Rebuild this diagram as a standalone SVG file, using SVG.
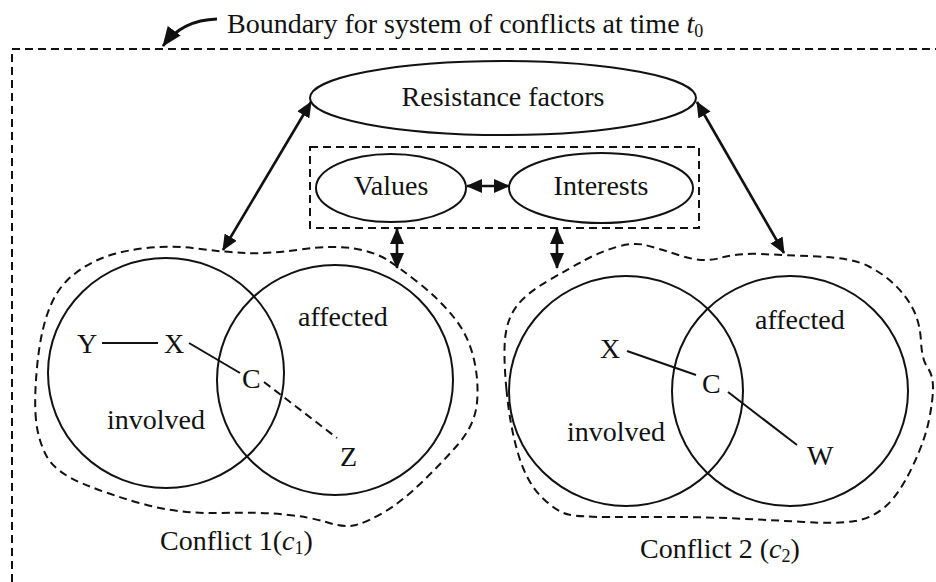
<svg xmlns="http://www.w3.org/2000/svg" width="936" height="582" viewBox="0 0 936 582">
<style>
text{font-family:"Liberation Serif","Times New Roman",serif;font-size:28px;fill:#111}
.sub{font-size:18px}
.it{font-style:italic}
.solid{fill:none;stroke:#111;stroke-width:2}
.node{fill:#fff;stroke:#111;stroke-width:2}
.dash{fill:none;stroke:#111;stroke-width:2;stroke-dasharray:8 5}
.arr{fill:none;stroke:#111;stroke-width:2.6;marker-start:url(#ah);marker-end:url(#ah)}
</style>
<defs>
<marker id="ah" viewBox="0 0 16 14" refX="15" refY="7" markerWidth="16" markerHeight="14" markerUnits="userSpaceOnUse" orient="auto-start-reverse">
<path d="M0,0 L16,7 L0,14 z" fill="#111"/>
</marker>
<marker id="ah1" viewBox="0 0 20 16" refX="19" refY="8" markerWidth="20" markerHeight="16" markerUnits="userSpaceOnUse" orient="auto">
<path d="M0,0 L20,8 L0,16 z" fill="#111"/>
</marker>
</defs>

<g id="boundary">
<path class="dash" d="M12,582 L12,49 L936,49"/>
<text x="227" y="33">Boundary for system of conflicts at time <tspan class="it">t</tspan><tspan class="sub" dy="4">0</tspan></text>
</g>

<g id="conflict1-blob">
<path class="dash" d="M36,420 Q34,400 37,367.5 Q40,335 47.5,313.5 Q55,292 67.5,280 Q80,268 97.5,260 Q115,252 142.5,248.5 Q170,245 196.5,248.5 Q223,252 245.5,253 Q268,254 300.5,249.5 Q333,245 354,248.5 Q375,252 387.5,260 Q400,268 420,284 Q440,300 454,317.5 Q468,335 473.5,357.5 Q479,380 477,402.5 Q475,425 457.5,445 Q440,465 420,484 Q400,503 383.5,512.5 Q367,522 356,525 Q345,528 327.5,522.5 Q310,517 285,514.5 Q260,512 220,513 Q180,514 145,504.5 Q110,495 82.5,483.5 Q55,472 46.5,456 Q38,440 36,420 Z"/>
</g>

<g id="conflict2-blob">
<path class="dash" d="M506.5,390 Q503,353 505.5,335 Q508,317 517.5,305 Q527,293 548.5,280.5 Q570,268 585,260 Q600,252 616.5,247 Q633,242 645,245 Q657,248 680,255.5 Q703,263 720,258 Q737,253 760,254 Q783,255 818,256.5 Q853,258 869,266.5 Q885,275 896,286 Q907,297 913.5,310 Q920,323 921,341.5 Q922,360 927.5,367.5 Q933,375 933,387.5 Q933,400 929,420 Q925,440 912.5,466.5 Q900,493 886.5,505.5 Q873,518 855,521 Q837,524 803.5,522 Q770,520 736.5,518.5 Q703,517 670,517 Q637,517 608.5,517 Q580,517 568.5,514.5 Q557,512 542,497.5 Q527,483 518.5,455 Q510,427 506.5,390 Z"/>
</g>

<g id="resistance">
<ellipse class="node" cx="503" cy="98" rx="193" ry="37"/>
<text x="503" y="106" text-anchor="middle">Resistance factors</text>
</g>

<g id="values-interests-box">
<rect class="dash" x="310" y="147" width="389" height="81"/>
</g>

<g id="values">
<ellipse class="node" cx="391" cy="188" rx="75" ry="34"/>
<text x="391" y="195" text-anchor="middle">Values</text>
</g>

<g id="interests">
<ellipse class="node" cx="601" cy="188" rx="92" ry="35"/>
<text x="601" y="195" text-anchor="middle">Interests</text>
</g>

<g id="c1-involved">
<ellipse class="solid" cx="166" cy="373" rx="118" ry="115"/>
<text x="107" y="429">involved</text>
</g>
<g id="c1-affected">
<ellipse class="solid" cx="335" cy="380" rx="118" ry="115"/>
<text x="298" y="326">affected</text>
</g>
<g id="c1-Y"><text x="77" y="353">Y</text></g>
<g id="c1-X"><text x="164" y="353">X</text></g>
<g id="c1-C"><text x="242" y="388">C</text></g>
<g id="c1-Z"><text x="340" y="466">Z</text></g>
<g id="c1-label"><text x="160" y="550">Conflict 1(<tspan class="it">c</tspan><tspan class="sub" dy="4">1</tspan><tspan dy="-4">)</tspan></text></g>

<g id="c2-involved">
<ellipse class="solid" cx="626" cy="391" rx="117" ry="115"/>
<text x="567" y="441">involved</text>
</g>
<g id="c2-affected">
<ellipse class="solid" cx="790" cy="391" rx="118" ry="115"/>
<text x="755" y="329">affected</text>
</g>
<g id="c2-X"><text x="600" y="358">X</text></g>
<g id="c2-C"><text x="702" y="393">C</text></g>
<g id="c2-W"><text x="807" y="465">W</text></g>
<g id="c2-label"><text x="640" y="558">Conflict 2 (<tspan class="it">c</tspan><tspan class="sub" dy="4">2</tspan><tspan dy="-4">)</tspan></text></g>

<g id="connectors">
<path d="M217,19 Q182,20 163,46" fill="none" stroke="#111" stroke-width="2.8" marker-end="url(#ah1)"/>
<line class="arr" x1="311" y1="102" x2="223" y2="250"/>
<line class="arr" x1="697" y1="102" x2="784" y2="253"/>
<line class="arr" x1="467" y1="186" x2="509" y2="186"/>
<line class="arr" x1="397" y1="229" x2="397" y2="268"/>
<line class="arr" x1="557" y1="229" x2="557" y2="268"/>
<line class="solid" x1="102" y1="343" x2="158" y2="343"/>
<line class="solid" x1="189" y1="343" x2="240" y2="373"/>
<line class="dash" x1="264" y1="382" x2="337" y2="438"/>
<line class="solid" x1="627" y1="351" x2="696" y2="375"/>
<line class="solid" x1="728" y1="392" x2="797" y2="445"/>
</g>
</svg>
